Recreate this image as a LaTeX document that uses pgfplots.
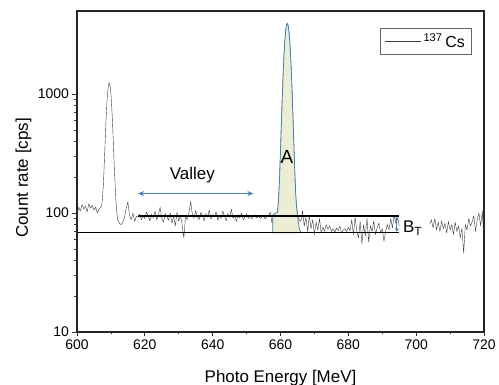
\documentclass[border=0pt]{standalone}
\usepackage{pgfplots}
\pgfplotsset{compat=1.18}
\usetikzlibrary{arrows.meta}
\usepackage{fontspec}
\setmainfont{Liberation Sans}
\definecolor{peakfill}{RGB}{236,238,212}
\definecolor{arrowblue}{RGB}{74,126,187}
\definecolor{specgray}{RGB}{60,60,60}
\begin{document}
\begin{tikzpicture}
\path[use as bounding box] (-77bp,-53bp) rectangle (422bp,332bp);
\begin{axis}[
 at={(0,0)}, anchor=south west,
 scale only axis, width=407bp, height=321bp,
 xmin=600, xmax=720, ymode=log, ymin=10, ymax=5000,
 xtick={600,620,...,720}, minor x tick num=1,
 ytick={10,100,1000}, yticklabels={10,100,1000},
 tick align=outside, xtick pos=left, ytick pos=left,
 major tick length=4.5bp, minor tick length=2.5bp,
 tick style={black!80, line width=0.7pt},
 axis line style={black!85, line width=1.2pt},
 /pgf/number format/assume math mode=true,
 /pgf/number format/1000 sep={},
 ticklabel style={font=\fontsize{14}{16}\selectfont},
 xlabel={Photo Energy [MeV]}, ylabel={Count rate [cps]},
 label style={font=\fontsize{17}{20}\selectfont},
 xlabel style={at={(axis description cs:0.5,-0.1558)}, anchor=base},
 ylabel style={at={(axis description cs:-0.1204,0.48)}, anchor=base},
 legend style={at={(axis description cs:0.9705,0.947)}, anchor=north east,
   draw=black!60, line width=0.5pt, font=\fontsize{16}{18}\selectfont,
   inner xsep=5bp, inner ysep=3bp},
 legend image code/.code={\draw[#1] (0bp,0bp) -- (36bp,0bp);},
 clip=false,
]
% spectrum
\addplot[specgray, line width=0.4pt, line join=round] coordinates {
(600,96)(600.5,112)(601,104)(601.5,118)(602,108)(602.5,115)(603,102)(603.5,120)
(604,110)(604.5,116)(605,106)(605.5,112)(606,100)(606.5,108)(607,112)
(607.25,115)(607.5,132)(607.75,169)(608,243)(608.25,368)(608.5,550)(608.75,777)
(609,1006)(609.25,1179)(609.5,1244)(609.75,1179)(610,1006)(610.25,777)(610.5,550)
(610.75,368)(611,243)(611.25,169)(611.5,125)(611.75,100)(612,88)
(612.5,82)(613,80)(613.5,84)(614,92)(614.5,110)(615,124)(615.5,95)(616,88)
(616.5,100)(617,85)(617.5,94)
(618,92)(618.5,98)(619,88)(619.5,95)(620,90)(620.5,102)(621,94)(621.5,86)
(622,98)(622.5,91)(623,104)(623.5,88)(624,96)(624.5,112)(625,90)(625.5,84)
(626,99)(626.5,93)(627,87)(627.5,100)(628,82)(628.5,95)(629,78)(629.5,102)
(630,85)(630.5,96)(631,80)(631.5,62)(632,94)(632.5,88)(633,100)(633.5,125)
(634,98)(634.5,90)(635,105)(635.5,92)(636,88)(636.5,101)(637,95)(637.5,86)
(638,99)(638.5,92)(639,106)(639.5,89)(640,97)(640.5,93)(641,102)(641.5,87)
(642,96)(642.5,90)(643,104)(643.5,94)(644,86)(644.5,99)(645,92)(645.5,108)
(646,90)(646.5,95)(647,85)(647.5,97)(648,91)(648.5,100)(649,88)(649.5,93)
(650,98)(650.5,90)(651,95)(651.5,89)(652,93)(652.5,97)(653,91)(653.5,94)
(654,90)(654.5,92)(655,96)(655.5,89)(656,93)(656.5,95)(657,102)(657.5,82)
(658,96)(658.5,100)(659,98)(659.25,111)(659.5,141)(659.75,206)(660,332)
(660.25,553)(660.5,903)(660.75,1399)(661,2022)(661.25,2705)(661.5,3336)
(661.75,3787)(662,3950)(662.25,3787)(662.5,3336)(662.75,2705)(663,2022)
(663.25,1399)(663.5,903)(663.75,553)(664,332)(664.25,206)(664.5,141)
(664.75,111)(665,98)(665.5,88)(666,85)
(666.5,105)(667,78)(667.5,92)(668,70)(668.5,96)(669,74)(669.5,88)(670,66)
(670.5,84)(671,72)(671.5,90)(672,68)(672.5,76)(673,70)(673.5,80)(674,73)
(674.5,78)(675,70)(675.5,74)(676,69)(676.5,75)(677,71)(677.5,78)(678,68)
(678.5,72)(679,74)(679.5,70)(680,76)(680.5,71)(681,88)(681.5,66)(682,92)
(682.5,70)(683,62)(683.5,85)(684,55)(684.5,80)(685,64)(685.5,90)(686,57)
(686.5,78)(687,70)(687.5,86)(688,66)(688.5,75)(689,82)(689.5,68)(690,74)
(690.5,58)(691,70)(691.5,80)(692,72)(692.5,90)(693,75)(693.5,96)(694,82)
(694.5,92)(695,78)
};
\addlegendentry{\textsuperscript{137}\,Cs}
\addplot[specgray, line width=0.4pt, line join=round, forget plot] coordinates {
(704,80)(704.5,88)(705,75)(705.5,90)(706,72)(706.5,84)(707,70)(707.5,86)
(708,74)(708.5,82)(709,68)(709.5,85)(710,72)(710.5,80)(711,66)(711.5,84)
(712,70)(712.5,78)(713,62)(713.5,74)(714,46)(714.5,80)(715,72)(715.5,90)
(716,78)(716.5,84)(717,95)(717.5,70)(718,88)(718.5,100)(719,78)(719.5,104)
(720,58)
};
% peak area A
\addplot[fill=peakfill, draw=arrowblue, line width=0.8pt, line join=round, forget plot] coordinates {
(657.7,68.5)(657.7,96)(658.5,100)(659,100)(659.25,111)(659.5,141)(659.75,206)(660,332)
(660.25,553)(660.5,903)(660.75,1399)(661,2022)(661.25,2705)(661.5,3336)
(661.75,3787)(662,3950)(662.25,3787)(662.5,3336)(662.75,2705)(663,2022)
(663.25,1399)(663.5,903)(663.75,553)(664,332)(664.25,206)(664.5,141)
(664.75,111)(665,98)(665.5,75)(666,68.5)
} -- cycle;
% background lines
\addplot[black, line width=1.1pt, forget plot] coordinates {(618,94.4)(695,94.4)};
\addplot[black, line width=1.1pt, forget plot] coordinates {(600,68.5)(695,68.5)};
% arrows
\addplot[arrowblue, line width=1.3pt, {Stealth[length=6bp,width=5bp]}-{Stealth[length=6bp,width=5bp]}, forget plot] coordinates {(618,146)(652,146)};
\addplot[arrowblue, line width=1pt, {Stealth[length=4bp,width=4bp]}-{Stealth[length=4bp,width=4bp]}, forget plot] coordinates {(694.3,69.5)(694.3,93)};
% labels
\node[font=\fontsize{17}{19}\selectfont] at (axis cs:634,207) {Valley};
\node[font=\fontsize{19}{21}\selectfont] at (axis cs:661.9,298) {A};
\node[font=\fontsize{17}{19}\selectfont, anchor=west, inner sep=1bp] at (axis cs:695.8,75) {B\textsubscript{T}};
\draw[black!85, line width=1.2pt] (rel axis cs:0,0) rectangle (rel axis cs:1,1);
\end{axis}
\end{tikzpicture}
\end{document}
